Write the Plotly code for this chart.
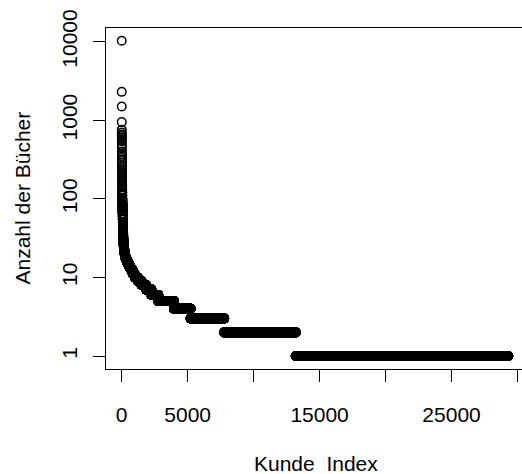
import numpy as np
import plotly.graph_objects as go

# Frequency table: number of books per customer (descending)
# and how many customers have that number of books.
buecher_werte = [10300, 2300, 1500, 950, 760, 700, 660, 630, 600, 570, 540, 500,
                 470, 440, 400, 370, 350, 330, 310, 290, 270, 255, 240, 230, 220,
                 210, 200, 190, 180, 172, 165, 158, 150, 145, 140,
                 130, 120, 110, 100, 95, 90, 85, 80, 75, 70, 65, 60, 55, 50, 45,
                 42, 40, 38, 36, 35, 34,
                 33, 32, 31, 30, 29, 28, 27, 26,
                 25, 24, 23, 22, 21, 20, 19,
                 18, 17, 16, 15,
                 14, 13, 12, 11,
                 10, 9, 8, 7, 6, 5, 4, 3, 2, 1]
kunden_anzahl = [1] * 35 + \
                [2, 3, 3, 4, 3, 4, 4, 4, 4, 5, 5, 5, 5, 5, 6, 4, 4, 3, 3, 2, 2] + \
                [3, 3, 4, 5, 6, 6, 7, 8] + \
                [9, 10, 13, 15, 18, 21, 24] + \
                [53, 65, 75, 85] + \
                [100, 110, 115, 130] + \
                [230, 270, 350, 400, 525, 1185, 1260, 2550, 5420, 16110]

x_tickvals = [0, 5000, 10000, 15000, 20000, 25000, 30000]
x_ticktext = ["0", "5000", "", "15000", "", "25000", ""]
y_tickvals = [1, 10, 100, 1000, 10000]
y_ticktext = ["1", "10", "100", "1000", "10000"]

y = np.repeat(np.array(buecher_werte, dtype=float), kunden_anzahl)
x = np.arange(1, len(y) + 1)

FONT = "Liberation Sans, Arial, Helvetica, sans-serif"
FS = 21

fig = go.Figure()
fig.add_trace(go.Scatter(
    x=x, y=y, mode="markers",
    marker=dict(symbol="circle-open", size=8.5, color="black",
                line=dict(color="black", width=1.5)),
    hoverinfo="skip", showlegend=False,
))

L, R, T, B = 106, 0, 28, 105
W, H = 522, 474
pw = W - L - R
ph = H - T - B

fig.update_layout(
    width=W, height=H,
    margin=dict(l=L, r=R, t=T, b=B, pad=0),
    paper_bgcolor="white", plot_bgcolor="white",
    font=dict(family=FONT, size=FS, color="black"),
    xaxis=dict(
        range=[-1190, 30340], showgrid=False, zeroline=False,
        showline=True, mirror=True, linecolor="black", linewidth=1,
        ticks="outside", ticklen=12, tickwidth=1, tickcolor="black",
        tickvals=x_tickvals, ticktext=x_ticktext,
        tickfont=dict(family=FONT, size=FS, color="black"),
        ticklabelstandoff=15,
    ),
    yaxis=dict(
        type="log", range=[-0.165, 4.174], showgrid=False, zeroline=False,
        showline=True, mirror=False, linecolor="black", linewidth=1,
        ticks="outside", ticklen=12, tickwidth=1, tickcolor="black",
        tickvals=y_tickvals, ticktext=y_ticktext, tickangle=-90,
        tickfont=dict(family=FONT, size=FS, color="black"),
        ticklabelstandoff=8,
    ),
    annotations=[
        dict(text="Kunde\u00a0\u00a0Index", xref="paper", yref="paper",
             x=(316 - L) / pw, y=(H - B - 463) / ph,
             xanchor="center", yanchor="middle", showarrow=False,
             font=dict(family=FONT, size=FS, color="black")),
        dict(text="Anzahl der Bücher", xref="paper", yref="paper",
             x=(22 - L) / pw, y=0.5, textangle=-90,
             xanchor="center", yanchor="middle", showarrow=False,
             font=dict(family=FONT, size=FS, color="black")),
    ],
)

fig.write_html("out.html")
